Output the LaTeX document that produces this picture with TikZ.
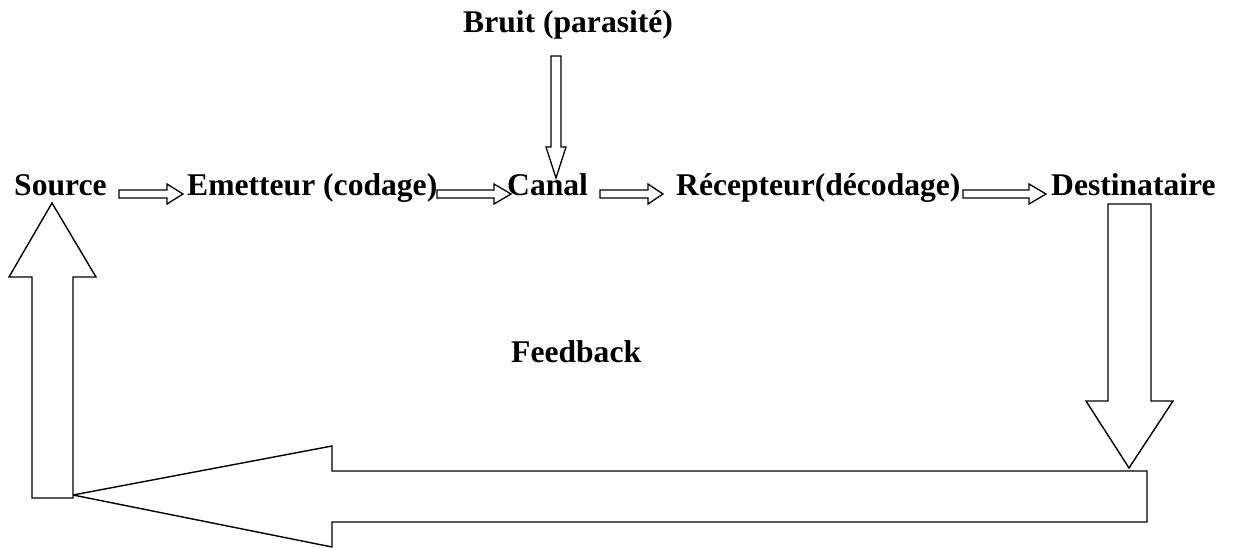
\documentclass[tikz,border=0pt]{standalone}
\usepackage{fontspec}
\setmainfont{Liberation Serif}
\begin{document}
\begin{tikzpicture}[x=1pt,y=-1pt,
  lbl/.style={anchor=base west,inner sep=0pt,font=\fontsize{31.6}{38}\selectfont\bfseries},
  blockarrow/.style={draw=black,line width=1.4pt,fill=white,line join=miter},
  smallarrow/.style={draw=black,line width=1.3pt,fill=white,line join=miter}]
\useasboundingbox (0,0) rectangle (1236,548);
% texts
\node[lbl] (bruit) at (463,33) {Bruit (parasité)};
\node[lbl] (source) at (14,196) {Source};
\node[lbl] (emetteur) at (187,196) {Emetteur (codage)};
\node[lbl] (canal) at (507,196) {Canal};
\node[lbl] (recepteur) at (676,196) {Récepteur(décodage)};
\node[lbl] (dest) at (1051,196) {Destinataire};
\node[lbl] (feedback) at (511,362) {Feedback};
% small horizontal arrows in the row
\draw[smallarrow] (119,190) -- (167,190) -- (167,184) -- (183,194) -- (167,204) -- (167,198) -- (119,198) -- cycle;
\draw[smallarrow] (437,190) -- (494,190) -- (494,184) -- (511,194) -- (494,204) -- (494,198) -- (437,198) -- cycle;
\draw[smallarrow] (600,190) -- (648,190) -- (648,184) -- (663,194) -- (648,204) -- (648,198) -- (600,198) -- cycle;
\draw[smallarrow] (963,190) -- (1029,190) -- (1029,184) -- (1046,194) -- (1029,204) -- (1029,198) -- (963,198) -- cycle;
% noise arrow
\draw[smallarrow] (551,56) -- (561,56) -- (561,147) -- (566,147) -- (556,178) -- (546,147) -- (551,147) -- cycle;
% big down arrow from Destinataire
\draw[blockarrow] (1108,204) -- (1151,204) -- (1151,401) -- (1173,401) -- (1129,468) -- (1086,401) -- (1108,401) -- cycle;
% big left arrow (feedback)
\draw[blockarrow] (1147,471) -- (1147,522) -- (332,522) -- (332,547) -- (73,495) -- (332,446) -- (332,471) -- cycle;
% big up arrow to Source
\draw[blockarrow] (32,498) -- (73,498) -- (73,277) -- (96,277) -- (52,203) -- (9,277) -- (32,277) -- cycle;
\end{tikzpicture}
\end{document}
